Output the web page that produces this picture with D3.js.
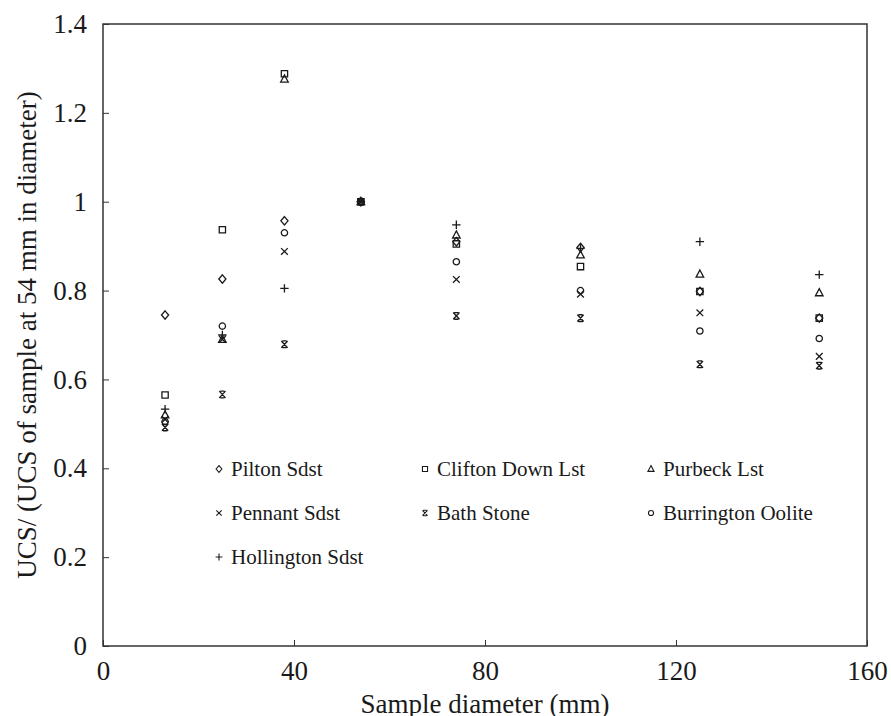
<!DOCTYPE html>
<html>
<head>
<meta charset="utf-8">
<script src="https://cdn.jsdelivr.net/npm/d3@7"></script>
<style>
  html, body { margin: 0; padding: 0; background: #fff; }
  svg { display: block; }
  text { font-family: "Liberation Serif", "Times New Roman", serif; fill: #1a1a1a; }
</style>
</head>
<body>
<svg id="chart"></svg>
<script>
// sample diameters (mm)
const diameters = [13, 25, 38, 54, 74, 100, 125, 150];

// normalised UCS per rock type
const pilton     = [0.745, 0.826, 0.957, 1, 0.910, 0.897, 0.798, 0.738];
const clifton    = [0.565, 0.937, 1.288, 1, 0.905, 0.854, 0.798, 0.738];
const purbeck    = [0.520, 0.690, 1.276, 1, 0.925, 0.880, 0.837, 0.795];
const pennant    = [0.510, 0.690, 0.888, 1, 0.825, 0.792, 0.750, 0.652];
const bathStone  = [0.492, 0.566, 0.679, 1, 0.743, 0.738, 0.634, 0.631];
const burrington = [0.505, 0.720, 0.930, 1, 0.865, 0.800, 0.709, 0.692];
const hollington = [0.533, 0.700, 0.805, 1, 0.948, 0.895, 0.910, 0.836];

const seriesNames = ['Pilton Sdst', 'Clifton Down Lst', 'Purbeck Lst',
                     'Pennant Sdst', 'Bath Stone', 'Burrington Oolite', 'Hollington Sdst'];
const seriesValues = [pilton, clifton, purbeck, pennant, bathStone, burrington, hollington];
const seriesSymbols = ['diamond', 'square', 'triangle', 'cross', 'bath', 'circle', 'plus'];

const xTicks = [0, 40, 80, 120, 160];
const yTicks = [0, 0.2, 0.4, 0.6, 0.8, 1, 1.2, 1.4];

const W = 891, H = 716;
const margin = { left: 103, right: 24, top: 24, bottom: 70 };

const svg = d3.select('#chart').attr('width', W).attr('height', H);

const x = d3.scaleLinear().domain([0, 160]).range([margin.left, W - margin.right]);
const y = d3.scaleLinear().domain([0, 1.4]).range([H - margin.bottom, margin.top]);

// marker shapes, drawn around (0,0)
function symbolPath(type, s) {
  const p = d3.path();
  switch (type) {
    case 'diamond':
      p.moveTo(0, -s); p.lineTo(s * 0.85, 0); p.lineTo(0, s); p.lineTo(-s * 0.85, 0); p.closePath();
      break;
    case 'square':
      p.rect(-s * 0.75, -s * 0.75, s * 1.5, s * 1.5);
      break;
    case 'triangle':
      p.moveTo(0, -s); p.lineTo(s * 0.9, s * 0.7); p.lineTo(-s * 0.9, s * 0.7); p.closePath();
      break;
    case 'circle':
      p.arc(0, 0, s * 0.75, 0, 2 * Math.PI);
      break;
    case 'cross':
      p.moveTo(-s * 0.8, -s * 0.8); p.lineTo(s * 0.8, s * 0.8);
      p.moveTo(s * 0.8, -s * 0.8); p.lineTo(-s * 0.8, s * 0.8);
      break;
    case 'bath':
      p.moveTo(-s * 0.75, -s * 0.8); p.lineTo(s * 0.75, s * 0.8);
      p.moveTo(s * 0.75, -s * 0.8); p.lineTo(-s * 0.75, s * 0.8);
      p.moveTo(-s * 0.5, -s * 0.8); p.lineTo(s * 0.5, -s * 0.8);
      p.moveTo(-s * 0.5, s * 0.8); p.lineTo(s * 0.5, s * 0.8);
      break;
    case 'plus':
      p.moveTo(-s, 0); p.lineTo(s, 0);
      p.moveTo(0, -s); p.lineTo(0, s);
      break;
  }
  return p.toString();
}

// frame
svg.append('rect')
  .attr('x', x(0)).attr('y', y(1.4))
  .attr('width', x(160) - x(0)).attr('height', y(0) - y(1.4))
  .attr('fill', 'none').attr('stroke', '#333').attr('stroke-width', 1.5);

// axes with inward ticks
const xAxis = svg.append('g')
  .attr('transform', `translate(0,${y(0)})`)
  .call(d3.axisBottom(x).tickValues(xTicks).tickSizeInner(-6).tickSizeOuter(0).tickPadding(15));
const yAxis = svg.append('g')
  .attr('transform', `translate(${x(0)},0)`)
  .call(d3.axisLeft(y).tickValues(yTicks).tickSizeInner(-6).tickSizeOuter(0).tickPadding(16)
    .tickFormat(d => String(+d.toFixed(1))));

[xAxis, yAxis].forEach(a => {
  a.select('.domain').remove();
  a.selectAll('.tick line').attr('stroke', '#333').attr('stroke-width', 1);
  a.selectAll('.tick text')
    .style('font-family', '"Liberation Serif", serif')
    .style('font-size', '27px')
    .attr('fill', '#1a1a1a');
});

// axis titles
svg.append('text')
  .attr('x', (x(0) + x(160)) / 2).attr('y', 713)
  .attr('text-anchor', 'middle')
  .style('font-size', '27px')
  .text('Sample diameter (mm)');

svg.append('text')
  .attr('transform', `translate(36,${(y(0) + y(1.4)) / 2}) rotate(-90)`)
  .attr('text-anchor', 'middle')
  .style('font-size', '27px')
  .text('UCS/ (UCS of sample at 54 mm in diameter)');

// points
const points = svg.append('g');
seriesValues.forEach((vals, i) => {
  points.append('g')
    .selectAll('path')
    .data(vals)
    .join('path')
      .attr('transform', (d, j) => `translate(${x(diameters[j])},${y(d)})`)
      .attr('d', symbolPath(seriesSymbols[i], 4.2))
      .attr('fill', 'none')
      .attr('stroke', '#1a1a1a')
      .attr('stroke-width', 1.3);
});

// legend: three columns
const legendCols = [219, 425, 651];
const legendRows = [469, 513, 557];
const legend = svg.append('g');
seriesNames.forEach((name, i) => {
  const lx = legendCols[i % 3], ly = legendRows[Math.floor(i / 3)];
  legend.append('path')
    .attr('transform', `translate(${lx},${ly})`)
    .attr('d', symbolPath(seriesSymbols[i], 3.4))
    .attr('fill', 'none').attr('stroke', '#1a1a1a').attr('stroke-width', 1.1);
  legend.append('text')
    .attr('x', lx + 12).attr('y', ly + 7)
    .style('font-size', '21px')
    .text(name);
});
</script>
</body>
</html>
